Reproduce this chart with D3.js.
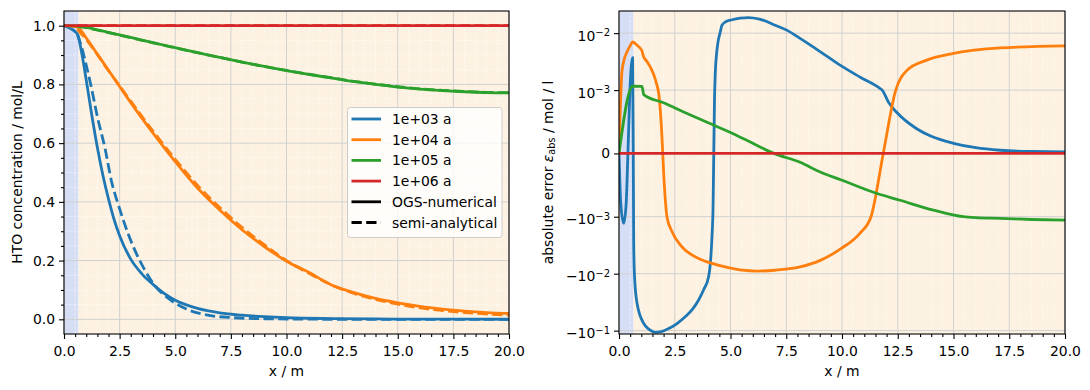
<!DOCTYPE html>
<html>
<head>
<meta charset="utf-8">
<script src="https://cdn.jsdelivr.net/npm/d3@7"></script>
<style>
  body { margin: 0; background: #fff; }
  svg text { font-family: "DejaVu Sans", sans-serif; }
</style>
</head>
<body>
<div id="chart"></div>
<script>
// ---- data ----
const seriesNames = ["1e+03 a", "1e+04 a", "1e+05 a", "1e+06 a"];

// left panel: HTO concentration, OGS-numerical (solid)
const xBlueNum = [0, 0.6, 0.8, 1.0, 1.25, 1.5, 1.75, 2.0, 2.25, 2.5, 3.0, 3.5, 4.0, 4.5, 5.0, 5.5, 6.0, 7.0, 8.0, 9.0, 10, 12, 14, 16, 20];
const cBlueNum = [1.0, 0.972, 0.905, 0.815, 0.695, 0.585, 0.49, 0.41, 0.34, 0.285, 0.205, 0.155, 0.119, 0.088, 0.065, 0.049, 0.037, 0.022, 0.014, 0.009, 0.0055, 0.0025, 0.0012, 0.0006, 0.0002];
const xOrangeNum = [0, 0.6, 1, 1.5, 2, 2.5, 3, 3.5, 4, 4.5, 5, 6, 7, 8, 9, 10, 11, 12, 13, 14, 15, 16, 17, 18, 19, 20];
const cOrangeNum = [1.0, 0.995, 0.958, 0.903, 0.848, 0.793, 0.738, 0.685, 0.634, 0.585, 0.537, 0.447, 0.372, 0.305, 0.248, 0.198, 0.16, 0.118, 0.092, 0.071, 0.056, 0.044, 0.035, 0.028, 0.023, 0.02];
const xGreenNum = [0, 0.6, 1, 2, 3, 4, 5, 6, 7, 8, 9, 10, 11, 12, 13, 14, 15, 16, 17, 18, 19, 20];
const cGreenNum = [1.0, 0.999, 0.994, 0.977, 0.960, 0.942, 0.925, 0.908, 0.892, 0.876, 0.861, 0.847, 0.834, 0.822, 0.810, 0.800, 0.791, 0.784, 0.779, 0.775, 0.772, 0.771];
const xRedNum = [0, 20];
const cRedNum = [1.0, 1.0];

// left panel: semi-analytical (dashed)
const xBlueAna = [0.6, 0.8, 1.0, 1.2, 1.5, 1.85, 2.15, 2.4, 2.7, 3.1, 3.6, 4.1, 4.75, 5.5, 6.4, 7.6, 9.0, 10.5, 13, 20];
const cBlueAna = [0.97, 0.925, 0.865, 0.80, 0.69, 0.58, 0.465, 0.40, 0.33, 0.25, 0.172, 0.113, 0.068, 0.035, 0.015, 0.0055, 0.002, 0.0007, 0.0001, 0];
const xOrangeAna = [0.6, 1, 2, 3, 4, 5, 6, 7, 8, 9, 10, 11, 12, 13, 14, 15, 16, 17, 18, 19, 20];
const cOrangeAna = [0.988, 0.953, 0.847, 0.743, 0.641, 0.545, 0.456, 0.381, 0.313, 0.254, 0.2, 0.157, 0.118, 0.089, 0.068, 0.052, 0.039, 0.030, 0.023, 0.018, 0.014];
const xGreenAna = [0.6, 1, 2, 3, 4, 5, 6, 7, 8, 9, 10, 11, 12, 13, 14, 15, 16, 17, 18, 19, 20];
const cGreenAna = [0.998, 0.993, 0.976, 0.959, 0.9415, 0.9247, 0.908, 0.892, 0.876, 0.8613, 0.8474, 0.8346, 0.8227, 0.8107, 0.8009, 0.792, 0.785, 0.780, 0.776, 0.773, 0.772];
const xRedAna = [0.6, 20];
const cRedAna = [1.0, 1.0];

// right panel: absolute error
const xBlueErr = [0, 0.08, 0.21, 0.32, 0.4, 0.5, 0.61, 0.64, 0.66, 0.7, 0.81, 1.1, 1.35, 1.63, 1.9, 2.23, 2.6, 2.97, 3.3, 3.57, 3.8, 4.02, 4.12, 4.17, 4.22, 4.25, 4.28, 4.32, 4.38, 4.44, 4.53, 4.62, 4.8, 5.07, 5.43, 5.8, 6.3, 7.0, 7.52, 8.12, 9.0, 9.91, 10.8, 11.7, 11.8, 12.1, 12.45, 13.35, 14, 15, 16, 17.1, 18.5, 20];
const eBlueErr = [0, -8e-4, -1.3e-3, -8e-4, 0, 1.2e-3, 3.7e-3, 0, -3e-3, -0.012, -0.033, -0.074, -0.095, -0.107, -0.104, -0.092, -0.075, -0.057, -0.042, -0.029, -0.019, -0.0112, -0.005, -2.24e-3, -8e-4, 0, 8e-4, 2.1e-3, 4.5e-3, 7e-3, 1.0e-2, 0.0138, 0.016, 0.0172, 0.0183, 0.0188, 0.0177, 0.0138, 0.0113, 8.1e-3, 4.8e-3, 2.74e-3, 1.7e-3, 1.07e-3, 1.0e-3, 8e-4, 6.5e-4, 3.9e-4, 2.7e-4, 1.6e-4, 9e-5, 5e-5, 3e-5, 2.5e-5];
const xOrangeErr = [0, 0.05, 0.13, 0.21, 0.36, 0.5, 0.61, 0.8, 0.96, 1.02, 1.1, 1.25, 1.4, 1.55, 1.7, 1.78, 1.93, 2.0, 2.15, 2.38, 2.83, 3.57, 4.17, 5.0, 5.52, 6.17, 7.0, 8.12, 9.0, 9.97, 10.8, 11.3, 11.85, 12.41, 12.9, 13.8, 15.0, 17.1, 20];
const eOrangeErr = [0, 6e-4, 2.1e-3, 3.2e-3, 4.7e-3, 6e-3, 7.0e-3, 6.2e-3, 5.4e-3, 5.0e-3, 3.9e-3, 3.2e-3, 2.56e-3, 1.9e-3, 1.23e-3, 9.5e-4, 2.4e-4, -2.9e-4, -1.0e-3, -1.84e-3, -3.4e-3, -5.4e-3, -6.6e-3, -8.0e-3, -8.7e-3, -9.0e-3, -8.7e-3, -7.6e-3, -5.9e-3, -3.6e-3, -1.96e-3, -1.0e-3, 0, 1.0e-3, 2.2e-3, 3.36e-3, 4.4e-3, 5.5e-3, 6.0e-3];
const xGreenErr = [0, 0.61, 1.03, 1.11, 2, 3, 4, 5, 6, 6.95, 8.12, 9.0, 9.97, 11.54, 12.6, 14.1, 15.44, 16, 17.1, 18.5, 20];
const eGreenErr = [0, 1.17e-3, 1.16e-3, 9.3e-4, 8.0e-4, 6.4e-4, 4.85e-4, 3.3e-4, 1.6e-4, 0, -1.4e-4, -2.9e-4, -4.2e-4, -6.3e-4, -7.4e-4, -8.95e-4, -1.0e-3, -1.04e-3, -1.07e-3, -1.12e-3, -1.15e-3];
const xRedErr = [0, 20];
const eRedErr = [0, 0];

// ticks
const xMajor = [0, 2.5, 5, 7.5, 10, 12.5, 15, 17.5, 20];
const xMinor = d3.range(0, 20.01, 0.5).filter(v => v % 2.5 !== 0);
const concMajor = [0, 0.2, 0.4, 0.6, 0.8, 1.0];
const concMinor = d3.range(-0.05, 1.051, 0.05).map(v => +v.toFixed(2)).filter(v => Math.abs(v * 5 - Math.round(v * 5)) > 1e-6);
const errMajor = [-1e-1, -1e-2, -1e-3, 0, 1e-3, 1e-2];
const errLabels = [["−10", "−1"], ["−10", "−2"], ["−10", "−3"], ["0", ""], ["10", "−3"], ["10", "−2"]];

// shaded zones along x
const zoneEdge = 0.64;

const colors = ["#1f77b4", "#ff7f0e", "#2ca02c", "#d62728"];
const lw = 2.8, dash = "10.3,4.4", fs = 13.9;

const width = 1090, height = 390;
const svg = d3.select("#chart").append("svg")
  .attr("width", width).attr("height", height);

// symlog (matplotlib style, linthresh 1e-3, linscale 1)
const linthresh = 1e-3, linAdj = 1 / (1 - 1 / 10);
function symlog(v) {
  const a = Math.abs(v);
  if (a <= linthresh) return v / linthresh * linAdj;
  return Math.sign(v) * (linAdj + Math.log10(a / linthresh));
}

function panel(id, left, right, top, bottom) {
  const g = svg.append("g");
  const x = d3.scaleLinear([0, 20], [left, right]);
  g.append("clipPath").attr("id", id).append("rect")
    .attr("x", left).attr("y", top).attr("width", right - left).attr("height", bottom - top);
  // backgrounds
  g.append("rect").attr("x", x(zoneEdge)).attr("y", top)
    .attr("width", x(20) - x(zoneEdge)).attr("height", bottom - top).attr("fill", "#fdf2e2");
  g.append("rect").attr("x", x(0)).attr("y", top)
    .attr("width", x(zoneEdge) - x(0)).attr("height", bottom - top).attr("fill", "#d6def6");
  return { g, x };
}

function grid(g, x, yPos, minorY, majorY, left, right, top, bottom) {
  const minor = g.append("g").attr("stroke", "#ffffff").attr("stroke-opacity", 0.6)
    .attr("stroke-width", 0.8).attr("stroke-dasharray", "3,1.5");
  minor.selectAll(".mx").data(xMinor).join("line")
    .attr("x1", d => x(d)).attr("x2", d => x(d)).attr("y1", top).attr("y2", bottom);
  minor.selectAll(".my").data(minorY).join("line")
    .attr("x1", left).attr("x2", right).attr("y1", d => yPos(d)).attr("y2", d => yPos(d));
  const major = g.append("g").attr("stroke", "#d0d0d0").attr("stroke-width", 1);
  major.selectAll(".gx").data(xMajor).join("line")
    .attr("x1", d => x(d)).attr("x2", d => x(d)).attr("y1", top).attr("y2", bottom);
  major.selectAll(".gy").data(majorY).join("line")
    .attr("x1", left).attr("x2", right).attr("y1", d => yPos(d)).attr("y2", d => yPos(d));
}

function styleAxis(a) {
  a.select(".domain").remove();
  a.attr("font-size", fs).attr("font-family", "DejaVu Sans, sans-serif");
  a.selectAll("line").attr("stroke", "#000").attr("stroke-width", 1.1);
  a.selectAll("text").attr("fill", "#000");
}

// ================= left panel =================
const L = { left: 64, right: 509, top: 11, bottom: 334 };
const p1 = panel("clipL", L.left, L.right, L.top, L.bottom);
const yC = d3.scaleLinear([-0.05, 1.05], [L.bottom, L.top]);
grid(p1.g, p1.x, yC, concMinor, concMajor, L.left, L.right, L.top, L.bottom);

const lineC = d3.line().x(d => p1.x(d[0])).y(d => yC(d[1])).curve(d3.curveMonotoneX);
const numC = [[xBlueNum, cBlueNum], [xOrangeNum, cOrangeNum], [xGreenNum, cGreenNum], [xRedNum, cRedNum]];
const anaC = [[xBlueAna, cBlueAna], [xOrangeAna, cOrangeAna], [xGreenAna, cGreenAna], [xRedAna, cRedAna]];
const linesL = p1.g.append("g").attr("clip-path", "url(#clipL)").attr("fill", "none");
numC.forEach((s, i) => {
  linesL.append("path").attr("d", lineC(d3.zip(s[0], s[1])))
    .attr("stroke", colors[i]).attr("stroke-width", lw).attr("stroke-linejoin", "round");
  linesL.append("path").attr("d", lineC(d3.zip(anaC[i][0], anaC[i][1])))
    .attr("stroke", colors[i]).attr("stroke-width", lw).attr("stroke-dasharray", dash);
});

p1.g.append("rect").attr("x", L.left).attr("y", L.top)
  .attr("width", L.right - L.left).attr("height", L.bottom - L.top)
  .attr("fill", "none").attr("stroke", "#000").attr("stroke-width", 1.1);

p1.g.append("g").attr("transform", `translate(0,${L.bottom})`)
  .call(d3.axisBottom(p1.x).tickValues(xMajor).tickFormat(d3.format(".1f")).tickSize(5).tickPadding(7.5))
  .call(styleAxis);
p1.g.append("g").attr("transform", `translate(0,${L.bottom})`)
  .call(d3.axisBottom(p1.x).tickValues(xMinor).tickFormat("").tickSize(3))
  .call(styleAxis);
p1.g.append("g").attr("transform", `translate(${L.left},0)`)
  .call(d3.axisLeft(yC).tickValues(concMajor).tickFormat(d3.format(".1f")).tickSize(5).tickPadding(4))
  .call(styleAxis);
p1.g.append("g").attr("transform", `translate(${L.left},0)`)
  .call(d3.axisLeft(yC).tickValues(concMinor.filter(v => v > -0.049 && v < 1.049)).tickFormat("").tickSize(3))
  .call(styleAxis);

p1.g.append("text").attr("x", (L.left + L.right) / 2).attr("y", 376)
  .attr("text-anchor", "middle").attr("font-size", fs).text("x / m");
p1.g.append("text").attr("transform", `translate(21.5,${(L.top + L.bottom) / 2}) rotate(-90)`)
  .attr("text-anchor", "middle").attr("font-size", fs).text("HTO concentration / mol/L");

// legend
const lg = p1.g.append("g").attr("transform", "translate(347.5,107.5)");
lg.append("rect").attr("width", 154.5).attr("height", 130).attr("rx", 3)
  .attr("fill", "#fff").attr("fill-opacity", 0.8).attr("stroke", "#cccccc").attr("stroke-width", 1);
const legendItems = seriesNames.map((n, i) => ({ label: n, color: colors[i], dash: null }))
  .concat([{ label: "OGS-numerical", color: "#000", dash: null }, { label: "semi-analytical", color: "#000", dash: dash }]);
const li = lg.selectAll(".li").data(legendItems).join("g")
  .attr("transform", (d, i) => `translate(0,${11.5 + i * 20.7})`);
li.append("line").attr("x1", 4).attr("x2", 33.5).attr("y1", 0).attr("y2", 0)
  .attr("stroke", d => d.color).attr("stroke-width", lw).attr("stroke-dasharray", d => d.dash);
li.append("text").attr("x", 44.5).attr("y", 5).attr("font-size", fs).text(d => d.label);

// ================= right panel =================
const R = { left: 619, right: 1065, top: 11, bottom: 334 };
const p2 = panel("clipR", R.left, R.right, R.top, R.bottom);
const yT = d3.scaleLinear([-3.17, 2.50], [R.bottom, R.top]);
const yE = v => yT(symlog(v));
grid(p2.g, p2.x, yE, [], errMajor, R.left, R.right, R.top, R.bottom);

const lineE = d3.line().x(d => p2.x(d[0])).y(d => yE(d[1])).curve(d3.curveMonotoneX);
const errS = [[xBlueErr, eBlueErr], [xOrangeErr, eOrangeErr], [xGreenErr, eGreenErr], [xRedErr, eRedErr]];
const linesR = p2.g.append("g").attr("clip-path", "url(#clipR)").attr("fill", "none");
errS.forEach((s, i) => {
  linesR.append("path").attr("d", lineE(d3.zip(s[0], s[1])))
    .attr("stroke", colors[i]).attr("stroke-width", lw).attr("stroke-linejoin", "round");
});

p2.g.append("rect").attr("x", R.left).attr("y", R.top)
  .attr("width", R.right - R.left).attr("height", R.bottom - R.top)
  .attr("fill", "none").attr("stroke", "#000").attr("stroke-width", 1.1);

p2.g.append("g").attr("transform", `translate(0,${R.bottom})`)
  .call(d3.axisBottom(p2.x).tickValues(xMajor).tickFormat(d3.format(".1f")).tickSize(5).tickPadding(7.5))
  .call(styleAxis);
p2.g.append("g").attr("transform", `translate(0,${R.bottom})`)
  .call(d3.axisBottom(p2.x).tickValues(xMinor).tickFormat("").tickSize(3))
  .call(styleAxis);
const yAxR = p2.g.append("g").attr("transform", `translate(${R.left},0)`)
  .call(d3.axisLeft(yT).tickValues(errMajor.map(symlog)).tickFormat("").tickSize(5).tickPadding(4))
  .call(styleAxis);
// tick labels with superscripts
yAxR.selectAll(".tick text").each(function (d, i) {
  const t = d3.select(this);
  const lab = errLabels[i];
  t.append("tspan").text(lab[0]);
  if (lab[1]) {
    t.append("tspan").attr("dy", "-0.45em").attr("font-size", "0.72em").text(lab[1]);
  }
});
yAxR.selectAll(".tick text").filter((d, i) => errLabels[i][1]).attr("dy", "0.5em");

p2.g.append("text").attr("x", (R.left + R.right) / 2).attr("y", 376)
  .attr("text-anchor", "middle").attr("font-size", fs).text("x / m");
const ylab = p2.g.append("text").attr("transform", `translate(552.5,${(R.top + R.bottom) / 2}) rotate(-90)`)
  .attr("text-anchor", "middle").attr("font-size", fs);
ylab.append("tspan").text("absolute error ");
ylab.append("tspan").attr("font-style", "italic").text("ε");
ylab.append("tspan").attr("font-size", "0.7em").attr("dy", "0.3em").text("abs");
ylab.append("tspan").attr("dy", "-0.21em").text(" / mol / l");
</script>
</body>
</html>
